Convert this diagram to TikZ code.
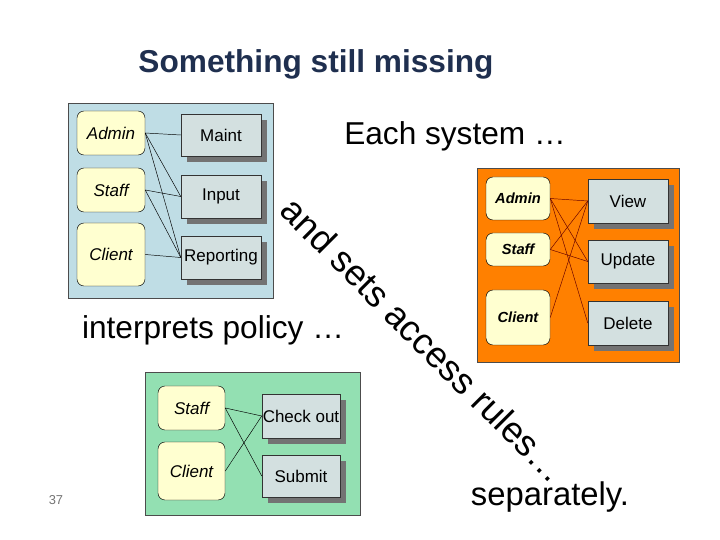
\documentclass[tikz,border=0pt]{standalone}
\usepackage{fontspec}
\setmainfont{Liberation Sans}
\definecolor{PanelBlau}{HTML}{BFDDE5}
\definecolor{PanelOrange}{HTML}{FF8000}
\definecolor{PanelGruen}{HTML}{93E0B2}
\definecolor{RolleGelb}{HTML}{FFFFD0}
\definecolor{AktionGrau}{HTML}{D3E0E0}
\definecolor{TitelBlau}{HTML}{1F2F4F}
\tikzset{
  panel/.style={draw=black!70, line width=0.6pt},
  rolle/.style={draw=black, fill=RolleGelb, rounded corners=6pt, line width=0.4pt,
    font=\itshape\fontsize{14.5}{14.5}\selectfont, inner sep=0pt},
  rolleB/.style={rolle, font=\bfseries\itshape\fontsize{12.5}{12.5}\selectfont},
  aktion/.style={draw=black!80, fill=AktionGrau, line width=0.4pt,
    font=\fontsize{14.5}{14.5}\selectfont, inner sep=0pt},
  schatten/.style={fill=black!55},
  verbindung/.style={line width=0.4pt},
  gross/.style={font=\fontsize{27}{27}\selectfont}
}
% box from pixel corners: name, x1, y1, x2, y2, style, text
\newcommand{\kasten}[7]{%
  \node[#6, minimum width={(#4-#2)*0.03cm}, minimum height={(#5-#3)*0.03cm}]
    (#1) at ({(#2+#4)/2},{(#3+#5)/2}) {#7};}
\newcommand{\aktionkasten}[6]{%
  \fill[schatten] (#2+6,#3+6) rectangle (#4+6,#5+6);
  \kasten{#1}{#2}{#3}{#4}{#5}{aktion}{#6}}

\begin{document}
\begin{tikzpicture}[x=0.03cm, y=-0.03cm]
\useasboundingbox (0,0) rectangle (720,540);

% ====================================================================
%         Titel
% ====================================================================
\node[text=TitelBlau, font=\bfseries\fontsize{27}{27}\selectfont] (titel) at (316,64) {Something still missing};

% ====================================================================
%         Panel links oben
% ====================================================================
\fill[PanelBlau] (68,103) rectangle (273,298);
\draw[panel] (68,103) rectangle (273,298);
\kasten{admA}{77}{111}{145}{155}{rolle}{Admin}
\kasten{staA}{77}{168}{145}{212}{rolle}{Staff}
\kasten{cliA}{77}{223}{145}{286}{rolle}{Client}
\aktionkasten{maint}{181}{114}{261}{156}{Maint}
\aktionkasten{input}{181}{175}{261}{218}{Input}
\aktionkasten{report}{181}{236}{261}{279}{Reporting}
\foreach \a/\b in {admA/maint, admA/input, admA/report, staA/input, staA/report, cliA/report}
  \draw[verbindung] (\a.east) -- (\b.west);

% ====================================================================
%         Panel rechts
% ====================================================================
\fill[PanelOrange] (477,168) rectangle (679,362);
\draw[panel] (477,168) rectangle (679,362);
\kasten{admB}{486}{177}{550}{220}{rolleB}{Admin}
\kasten{staB}{486}{233}{550}{266}{rolleB}{Staff}
\kasten{cliB}{486}{290}{550}{345}{rolleB}{Client}
\aktionkasten{view}{588}{179}{668}{223}{View}
\aktionkasten{update}{588}{240}{668}{283}{Update}
\aktionkasten{delete}{588}{301}{668}{345}{Delete}
\foreach \a/\b in {admB/view, admB/update, admB/delete, staB/view, staB/update, cliB/view}
  \draw[verbindung, black!60!red] (\a.east) -- (\b.west);

% ====================================================================
%         Panel unten
% ====================================================================
\fill[PanelGruen] (145,372) rectangle (360,515);
\draw[panel] (145,372) rectangle (360,515);
\kasten{staC}{158}{386}{225}{430}{rolle}{Staff}
\kasten{cliC}{158}{442}{225}{500}{rolle}{Client}
\aktionkasten{check}{262}{394}{340}{438}{Check out}
\aktionkasten{submit}{262}{455}{340}{497}{Submit}
\foreach \a/\b in {staC/check, staC/submit, cliC/check}
  \draw[verbindung] (\a.east) -- (\b.west);

% ====================================================================
%         Texte
% ====================================================================
\node[gross] (jedes) at (455,136) {Each system \dots};
\node[gross] (policy) at (213,330) {interprets policy \dots};
\node[gross, font=\fontsize{28}{28}\selectfont] (separat) at (550,497) {separately.};
\node[text=black!55, font=\fontsize{11}{11}\selectfont] (seite) at (56,500) {37};

% Text schraeg
\node[rotate=-45, font=\fontsize{31}{31}\selectfont] (regeln) at (424,340) {and sets access rules\dots};

\end{tikzpicture}
\end{document}
